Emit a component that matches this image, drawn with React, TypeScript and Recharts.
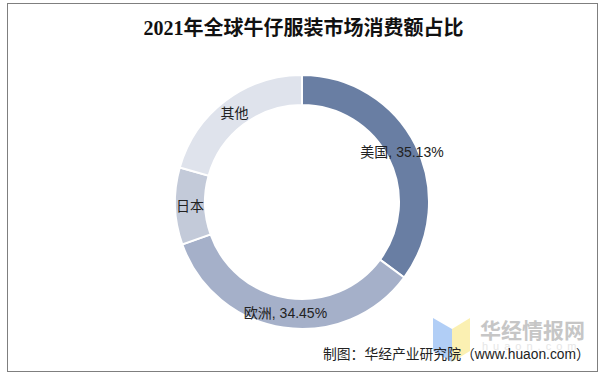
import { Pie, PieChart, Cell } from "recharts"

const regions = ["美国", "欧洲", "日本", "其他"]
const shares = [35.13, 34.45, 9.8, 20.62]
const sliceLabels = ["美国, 35.13%", "欧洲, 34.45%", "日本", "其他"]
const colors = ["#697ea3", "#a5b0c9", "#c3cad9", "#dfe3ec"]

const data = regions.map((name, i) => ({ name, value: shares[i], label: sliceLabels[i] }))

const RAD = Math.PI / 180

function renderLabel(props: any) {
  const { cx, cy, midAngle, innerRadius, outerRadius, index } = props
  const r = (innerRadius + outerRadius) / 2
  const x = cx + r * Math.cos(-midAngle * RAD)
  const y = cy + r * Math.sin(-midAngle * RAD)
  return (
    <text
      x={x}
      y={y}
      textAnchor="middle"
      dominantBaseline="central"
      fill="#222"
      fontSize={14}
      fontFamily="'Liberation Sans', Arial, 'Noto Sans CJK SC', sans-serif"
    >
      {data[index].label}
    </text>
  )
}

export default function App() {
  return (
    <div style={{ position: "absolute", left: 0, top: 0, width: 606, height: 379, background: "#fff", overflow: "hidden" }}>
      {/* frame */}
      <div style={{ position: "absolute", left: 7, top: 3, width: 589, height: 367, border: "1.5px solid #7f7f7f" }} />

      <div
        style={{
          position: "absolute",
          left: 0,
          top: 17,
          width: 607,
          textAlign: "center",
          fontFamily: "'Liberation Serif', 'Noto Sans CJK SC', serif",
          fontWeight: "bold",
          fontSize: 20,
          color: "#111",
          lineHeight: "22px",
        }}
      >
        2021年全球牛仔服装市场消费额占比
      </div>

      <div style={{ position: "absolute", left: 0, top: 0 }}>
        {/* recharts adds its 5px margin to numeric cx/cy */}
        <PieChart width={606} height={379}>
          <Pie
            data={data}
            dataKey="value"
            nameKey="name"
            cx={297}
            cy={197}
            innerRadius={97}
            outerRadius={127}
            startAngle={90}
            endAngle={-270}
            stroke="#fff"
            strokeWidth={2}
            label={renderLabel}
            labelLine={false}
            isAnimationActive={false}
          >
            {data.map((d, i) => (
              <Cell key={d.name} fill={colors[i]} />
            ))}
          </Pie>
        </PieChart>
      </div>

      {/* watermark */}
      <svg style={{ position: "absolute", left: 0, top: 0 }} width={606} height={379}>
        <polygon points="433,318 452,329 452,362 433,351" fill="#a9c9f5" opacity={0.9} />
        <polygon points="452,329 470,318 470,351 452,362" fill="#fbeeaa" opacity={0.9} />
        <text x={480} y={338} fontSize={21} fontWeight="bold" fill="#c6c6c6" fontFamily="'Noto Sans CJK SC', sans-serif">
          华经情报网
        </text>
        <text x={482} y={350} fontSize={11} fill="#e6e6e6" fontFamily="'Liberation Sans', Arial, sans-serif" letterSpacing={5}>
          huaon.com
        </text>
      </svg>

      <div
        style={{
          position: "absolute",
          left: 323,
          top: 346,
          fontSize: 13.8,
          color: "#222",
          whiteSpace: "nowrap",
          fontFamily: "'Liberation Sans', Arial, 'Noto Sans CJK SC', sans-serif",
          lineHeight: "18px",
        }}
      >
        制图：华经产业研究院（www.huaon.com）
      </div>
    </div>
  )
}
